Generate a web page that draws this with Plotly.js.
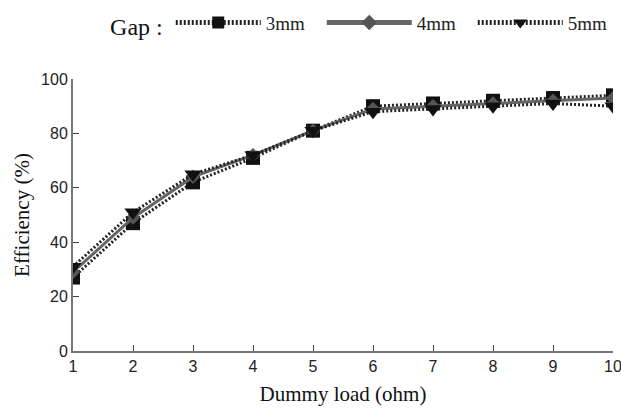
<!DOCTYPE html>
<html><head><meta charset="utf-8">
<script src="https://cdn.plot.ly/plotly-3.0.1.min.js"></script>
<style>body{margin:0;background:#fff}#c{width:621px;height:411px}</style>
</head><body><div id="c"></div>
<script>
const loads = [1,2,3,4,5,6,7,8,9,10];
const gap3 = [27,47,62,71,81,90,91,92,93,94];
const gap4 = [29,49,64,72,81,89,90,91,92,93];
const gap5 = [31,51,65,72,81,88,89,90,91,90];
const names = ['3mm','4mm','5mm'];
const tickFont = {family:'Liberation Sans Narrow, Liberation Sans, Arial', size:16, color:'#222'};
const traces = [
 {x:loads,y:gap3,name:names[0],mode:'lines+markers',line:{color:'#222',width:3,dash:'2px,2px'},marker:{symbol:'square',size:14,color:'#111'}},
 {x:loads,y:gap4,name:names[1],mode:'lines+markers',line:{color:'#666',width:3},marker:{symbol:'diamond',size:11,color:'#555'}},
 {x:loads,y:gap5,name:names[2],mode:'lines+markers',line:{color:'#222',width:3,dash:'2px,2px'},marker:{symbol:'triangle-down',size:15,color:'#111'}}
];
const layout = {
 width:621,height:411,
 margin:{l:73,r:8,t:79,b:60,autoexpand:false},
 paper_bgcolor:'#fff',plot_bgcolor:'#fff',
 showlegend:true,
 legend:{orientation:'h',x:0.065,xanchor:'left',y:1.2,yanchor:'middle',itemwidth:85,entrywidth:51,
   title:{text:'Gap :',side:'left',font:{family:'Liberation Serif, Times New Roman',size:24,color:'#111'}},
   font:{family:'Liberation Serif, Times New Roman',size:19,color:'#222'},tracegroupgap:0,itemsizing:'constant'},
 xaxis:{range:[1,10],tickvals:loads,ticks:'inside',ticklen:6,tickcolor:'#444',showline:true,linecolor:'#777',linewidth:2,
   showgrid:false,zeroline:false,tickfont:tickFont,ticklabeloverflow:'allow',automargin:false,
   title:{text:'Dummy load (ohm)',font:{family:'Liberation Serif, Times New Roman',size:21,color:'#111'},standoff:12}},
 yaxis:{range:[0,100],dtick:20,ticks:'inside',ticklen:6,tickcolor:'#444',showline:true,linecolor:'#777',linewidth:2,
   showgrid:false,zeroline:false,tickfont:tickFont,automargin:false,
   title:{text:'Efficiency (%)',font:{family:'Liberation Serif, Times New Roman',size:21,color:'#111'},standoff:6}}
};
Plotly.newPlot('c',traces,layout,{displayModeBar:false,staticPlot:true});
</script></body></html>
